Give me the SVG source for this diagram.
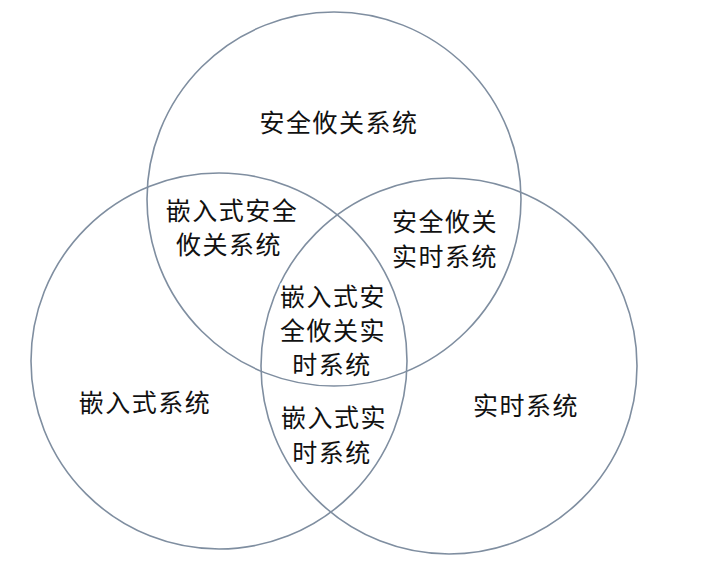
<svg xmlns="http://www.w3.org/2000/svg" width="708" height="564" viewBox="0 0 708 564">
<style>
.c{fill:none;stroke:#7f8ea0;stroke-width:1.6}
.t{font-family:"Noto Sans CJK SC","Noto Sans CJK JP",sans-serif;font-size:25px;letter-spacing:1.5px;fill:#111;text-anchor:middle;stroke:#fff;stroke-width:6;stroke-linejoin:round;paint-order:stroke}
</style>
<rect width="708" height="564" fill="#fff"/>
<g id="connectors">
<circle class="c" cx="334" cy="199" r="187"/>
<circle class="c" cx="219" cy="361" r="188"/>
<circle class="c" cx="449" cy="366" r="188"/>
</g>
<g id="safety"><text class="t" x="339" y="132">安全攸关系统</text></g>
<g id="emb-safety"><text class="t" x="232" y="220">嵌入式安全</text><text class="t" x="229" y="254">攸关系统</text></g>
<g id="safety-rt"><text class="t" x="445" y="231">安全攸关</text><text class="t" x="445" y="266">实时系统</text></g>
<g id="all"><text class="t" x="333" y="306">嵌入式安</text><text class="t" x="333" y="340">全攸关实</text><text class="t" x="332" y="374">时系统</text></g>
<g id="emb-rt"><text class="t" x="334" y="427">嵌入式实</text><text class="t" x="332" y="462">时系统</text></g>
<g id="emb"><text class="t" x="145" y="412">嵌入式系统</text></g>
<g id="rt"><text class="t" x="526" y="415">实时系统</text></g>
</svg>
